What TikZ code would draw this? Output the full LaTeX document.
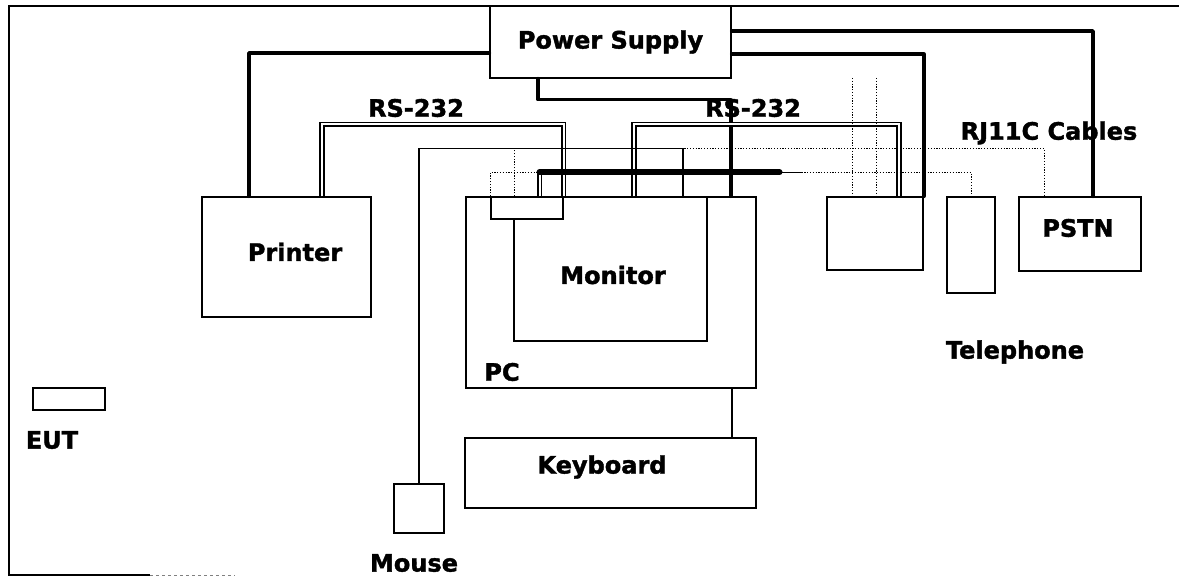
\documentclass[tikz,border=0pt]{standalone}
\usepackage{fontspec}
\setsansfont{DejaVu Sans}[BoldFeatures={FakeBold=1.6}]
\usepackage{tikz}
\usetikzlibrary{calc}

\tikzset{
  box/.style={draw, line width=1.4pt, fill=white, inner sep=0pt},
  lbl/.style={font=\sffamily\bfseries\fontsize{24}{28}\selectfont, inner sep=0pt},
  power/.style={line width=3.6pt, line cap=round, line join=round},
  rs232/.style={double, double distance=2pt, line width=1.7pt},
  bundle/.style={line width=6pt, line cap=round},
  cable/.style={line width=1.3pt},
  rj11/.style={line width=1pt, dash pattern=on 1.2pt off 1.6pt}
}

\begin{document}
\begin{tikzpicture}[x=1pt, y=-1pt]
        \useasboundingbox (0,0) rectangle (1179,577);

        % Draw the frame
        \draw[line width=1.4pt] (1179,6) -- (9,6) -- (9,575) -- (150,575);
        \draw[gray, line width=1pt, dashed] (150,575) -- (235,575);

        % Draw the units
        \node[box, minimum width=241, minimum height=72] (ps) at (610.5,42) {};
        \node[box, minimum width=169, minimum height=120] (printer) at (286.5,257) {};
        \node[box, minimum width=290, minimum height=191] (pc) at (611,292.5) {};
        \node[box, minimum width=193, minimum height=144] (monitor) at (610.5,269) {};
        \node[box, minimum width=72, minimum height=22] (port) at (527,208) {};
        \node[box, minimum width=96, minimum height=73] (modem) at (875,233.5) {};
        \node[box, minimum width=48, minimum height=96] (phone) at (971,245) {};
        \node[box, minimum width=122, minimum height=74] (pstn) at (1080,234) {};
        \node[box, minimum width=291, minimum height=70] (keyboard) at (610.5,473) {};
        \node[box, minimum width=50, minimum height=49] (mouse) at (419,508.5) {};
        \node[box, minimum width=72, minimum height=22] (eut) at (69,399) {};

        % Power lines
        \draw[power] (ps.west |- 0,53) -| (printer.north -| 249,0);
        \draw[power] (ps.south -| 538,0) -- ++(0,21) -| (pc.north -| 731,0);
        \draw[power] (ps.east |- 0,31) -| (pstn.north -| 1093,0);
        \draw[power] (ps.east |- 0,54) -| (modem.north east);

        % RS-232 cables
        \draw[rs232] (printer.north -| 322,0) -- ++(0,-72) -| (port.north east);
        \draw[rs232] (pc.north -| 634,0) -- ++(0,-72) -| (modem.north -| 899,0);

        % Cable bundle
        \draw[rs232] (pc.north -| 539.5,0) -- ++(0,-24) coordinate (bnd);
        \draw[bundle] (bnd) -- ++(240,0) coordinate (bndend);
        \draw[cable] (bndend) -- ++(22,0) coordinate (rj);

        % Mouse and keyboard cables
        \draw[cable] (mouse.north) -- ++(0,-335) -| (pc.north -| 683,0);
        \draw[cable] (keyboard.north -| 732,0) -- (pc.south -| 732,0);

        % RJ11C cables
        \draw[rj11] (port.north west) -- ++(0,-24) -- (bnd);
        \draw[rj11] (pc.north -| 514,0) -- ++(0,-48) -| (pstn.north -| 1044,0);
        \draw[rj11] (rj) -| (phone.north);
        \coordinate (d1) at (852,78);
        \coordinate (d2) at (876,78);
        \draw[rj11] (d1) -- (modem.north -| d1);
        \draw[rj11] (d2) -- (modem.north -| d2);

        % Label the units
        \node[lbl] (pslbl) at (ps.center) {Power Supply};
        \node[lbl] (rsleft) at (416,108) {RS-232};
        \node[lbl] (rsright) at (753,108) {RS-232};
        \node[lbl] (rjlbl) at (1049,133) {RJ11C Cables};
        \node[lbl] (prnlbl) at (295,252) {Printer};
        \node[lbl] (monlbl) at (613,275) {Monitor};
        \node[lbl] (pclbl) at (502,372) {PC};
        \node[lbl] (pstnlbl) at (1078,228) {PSTN};
        \node[lbl] (phonelbl) at (1015,352) {Telephone};
        \node[lbl] (kbdlbl) at (602,467) {Keyboard};
        \node[lbl] (eutlbl) at (52,440) {EUT};
        \node[lbl] (mouselbl) at (414,563) {Mouse};
    \end{tikzpicture}
\end{document}
